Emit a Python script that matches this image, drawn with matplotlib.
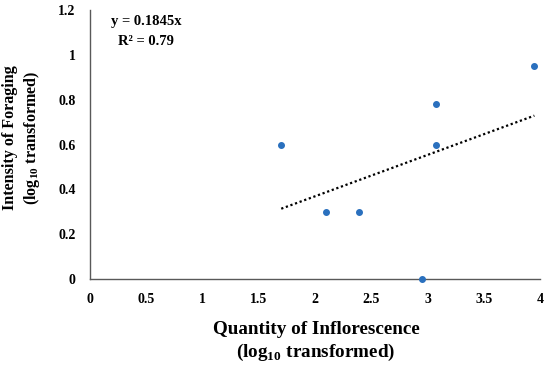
import numpy as np
import matplotlib
matplotlib.use("Agg")
import matplotlib.pyplot as plt

# data
inflorescence = [1.70, 2.10, 2.39, 2.95, 3.08, 3.08, 3.95]
foraging = [0.60, 0.30, 0.30, 0.00, 0.60, 0.78, 0.95]
slope = 0.1845
r_squared = 0.79
x_ticks = [0, 0.5, 1, 1.5, 2, 2.5, 3, 3.5, 4]
y_ticks = [0, 0.2, 0.4, 0.6, 0.8, 1, 1.2]

plt.rcParams['font.family'] = ['Liberation Serif', 'DejaVu Serif']
plt.rcParams['font.weight'] = 'bold'
plt.rcParams['mathtext.fontset'] = 'custom'
plt.rcParams['mathtext.rm'] = 'Liberation Serif:bold'
plt.rcParams['mathtext.bf'] = 'Liberation Serif:bold'

fig = plt.figure(figsize=(5.5, 3.68), dpi=100)
ax = fig.add_axes([0.1636, 0.2418, 0.8182, 0.731])

ax.scatter(inflorescence, foraging, s=16, color='#2a70be', zorder=3, clip_on=False)

# linear trend through origin
xs = np.array([min(inflorescence), max(inflorescence)])
ax.plot(xs, slope * xs, color='black', linestyle=(0, (1, 1.2)), linewidth=1.6)

ax.text(0.5, 1.147, f"y = {slope}x", ha='center', va='center', fontsize=10.5)
ax.text(0.5, 1.058, f"R\u00b2 = {r_squared}", ha='center', va='center', fontsize=10.5)

ax.set_xlim(0, 4)
ax.set_ylim(0, 1.2)
ax.set_xticks(x_ticks)
ax.set_xticklabels([f"{t:g}" for t in x_ticks])
ax.set_yticks(y_ticks)
ax.set_yticklabels([f"{t:g}" for t in y_ticks])
ax.tick_params(length=0, labelsize=10)
ax.tick_params(axis='x', pad=10)
ax.tick_params(axis='y', pad=10.5)
for lab in ax.get_xticklabels() + ax.get_yticklabels():
    lab.set_fontweight('bold')

for s in ['top', 'right']:
    ax.spines[s].set_visible(False)
for s in ['left', 'bottom']:
    ax.spines[s].set_color('#595959')
    ax.spines[s].set_linewidth(1.0)

ax.set_xlabel("Quantity of Inflorescence\n(log$_{10}$ transformed)", fontsize=13.8,
              fontweight='bold', linespacing=1.25, va='center')
ax.xaxis.set_label_coords(0.502, -0.234)
ax.set_ylabel("Intensity of Foraging\n(log$_{10}$ transformed)", fontsize=11.6,
              fontweight='bold', linespacing=1.3, va='center')
ax.yaxis.set_label_coords(-0.151, 0.524)

fig.savefig("out.png", dpi=100)
